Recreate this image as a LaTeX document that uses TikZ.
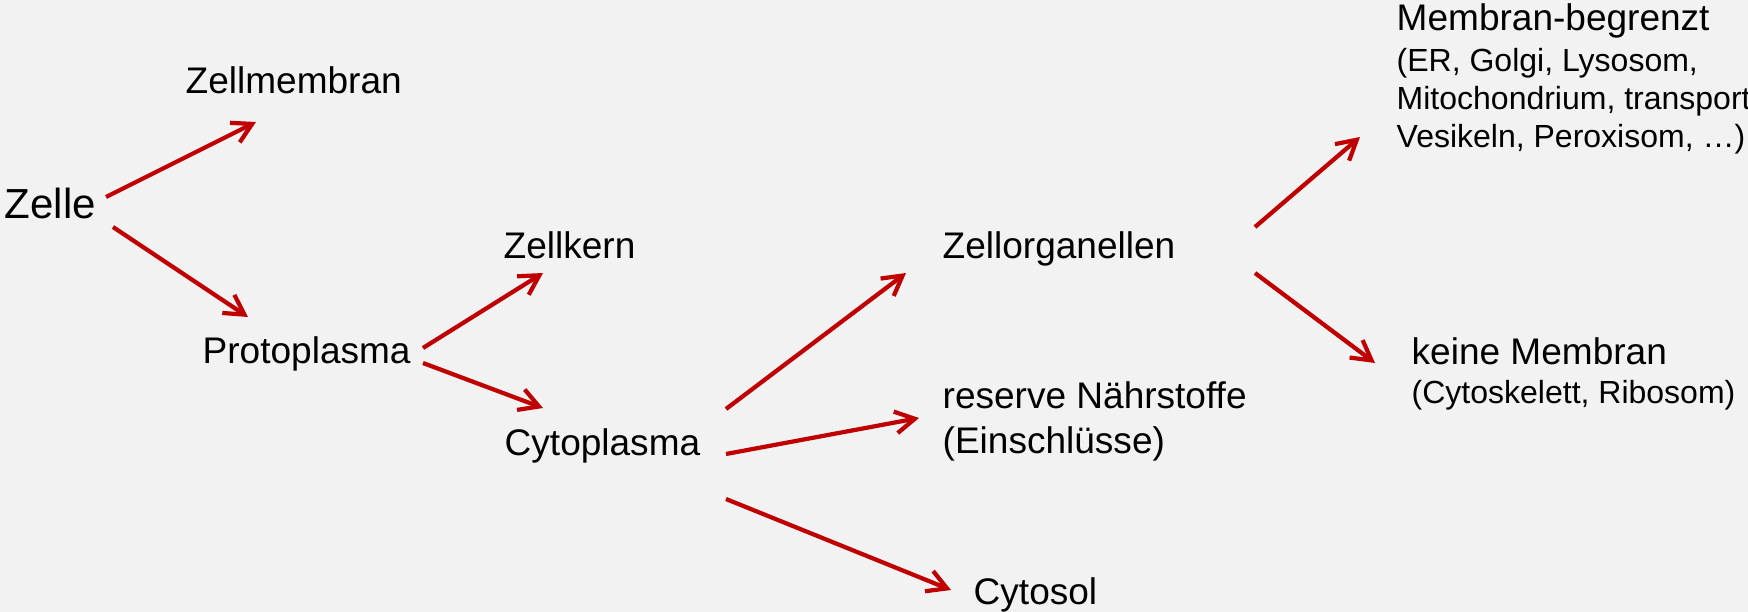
\documentclass[tikz,border=0pt]{standalone}
\usepackage{fontspec}
\setmainfont{Liberation Sans}
\usetikzlibrary{arrows.meta}
\definecolor{pfeilrot}{HTML}{C00000}
\definecolor{hintergrund}{HTML}{F2F2F2}
\begin{document}
\begin{tikzpicture}[x=0.01cm, y=-0.01cm,
	begriff/.style={anchor=base west, inner sep=0pt, align=left, font=\fontsize{10.53}{12.6}\selectfont},
	detail/.style={anchor=base west, inner sep=0pt, align=left, font=\fontsize{9.1}{10.7}\selectfont},
	pfeil/.style={draw=pfeilrot, line width=1.2pt, -{Straight Barb[length=5.5pt, width=6.2pt]}}]
				\fill[hintergrund] (0,0) rectangle (1748,612);
				\useasboundingbox (0,0) rectangle (1748,612);
				\node[begriff, font=\fontsize{11.95}{14}\selectfont] (zelle) at (4,218) {Zelle};
				\node[begriff] (membran) at (185,93) {Zellmembran};
				\node[begriff] (proto) at (202,363) {Protoplasma};
				\node[begriff] (kern) at (503,258) {Zellkern};
				\node[begriff] (cyto) at (504,455) {Cytoplasma};
				\node[begriff] (organ) at (942,258) {Zellorganellen};
				\node[begriff] (reserve) at (942,453) {reserve Nährstoffe\\(Einschlüsse)};
				\node[begriff] (cytosol) at (973,604) {Cytosol};
				\node[begriff] (begrenzt) at (1396,31) {Membran-begrenzt};
				\node[detail] (begrenztliste) at (1396,147) {(ER, Golgi, Lysosom,\\Mitochondrium, transport\\Vesikeln, Peroxisom, …)};
				\node[begriff] (keine) at (1411,364) {keine Membran};
				\node[detail] (keineliste) at (1411,403) {(Cytoskelett, Ribosom)};
				\coordinate (zelle-o) at (106,197);
				\coordinate (zelle-u) at (113,227);
				\coordinate (membran-e) at (256,122);
				\coordinate (proto-e) at (248,317);
				\coordinate (proto-o) at (423,348);
				\coordinate (proto-u) at (423,363);
				\coordinate (kern-e) at (543,273);
				\coordinate (cyto-e) at (543,408);
				\coordinate (cyto-o) at (726,409);
				\coordinate (cyto-m) at (726,454);
				\coordinate (cyto-u) at (726,499);
				\coordinate (organ-e) at (906,273);
				\coordinate (reserve-e) at (919,418);
				\coordinate (cytosol-e) at (951,590);
				\coordinate (organ-o) at (1255,227);
				\coordinate (organ-u) at (1255,273);
				\coordinate (begrenzt-e) at (1360,137);
				\coordinate (keine-e) at (1375,363);
				\draw[pfeil] (zelle-o) -- (membran-e);
				\draw[pfeil] (zelle-u) -- (proto-e);
				\draw[pfeil] (proto-o) -- (kern-e);
				\draw[pfeil] (proto-u) -- (cyto-e);
				\draw[pfeil] (cyto-o) -- (organ-e);
				\draw[pfeil] (cyto-m) -- (reserve-e);
				\draw[pfeil] (cyto-u) -- (cytosol-e);
				\draw[pfeil] (organ-o) -- (begrenzt-e);
				\draw[pfeil] (organ-u) -- (keine-e);
\end{tikzpicture}
\end{document}
